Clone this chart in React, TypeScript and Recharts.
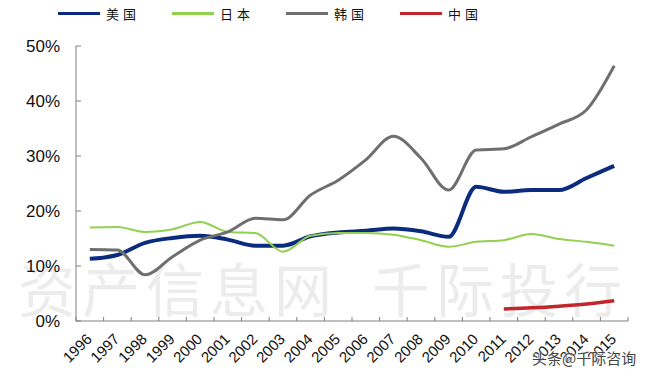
import * as React from 'react';
import { Line, LineChart, XAxis, YAxis } from 'recharts';

const years = ['1996', '1997', '1998', '1999', '2000', '2001', '2002', '2003', '2004', '2005',
    '2006', '2007', '2008', '2009', '2010', '2011', '2012', '2013', '2014', '2015'];
const usShare = [11.3, 12.0, 14.2, 15.1, 15.5, 14.8, 13.7, 13.7, 15.4, 16.1,
    16.4, 16.8, 16.3, 15.3, 24.4, 23.5, 23.8, 23.8, 26.0, 28.2];
const jpShare = [17.0, 17.1, 16.2, 16.7, 18.0, 16.2, 16.0, 12.6, 15.5, 16.0,
    16.0, 15.7, 14.7, 13.5, 14.4, 14.7, 15.8, 14.9, 14.4, 13.7];
const krShare = [13.0, 12.9, 8.4, 11.7, 14.7, 16.2, 18.7, 18.4, 22.9, 25.6,
    29.3, 33.6, 29.6, 23.8, 31.1, 31.3, 33.5, 35.8, 38.4, 46.4];
const cnShare = [null, null, null, null, null, null, null, null, null, null,
    null, null, null, null, null, 2.2, 2.4, 2.7, 3.1, 3.7];
const yTicks = [0, 10, 20, 30, 40, 50];

const series = [
    { key: 'us', name: '美国', color: '#0b2c7e', width: 4 },
    { key: 'jp', name: '日本', color: '#92d050', width: 2 },
    { key: 'kr', name: '韩国', color: '#6f6f6f', width: 3 },
    { key: 'cn', name: '中国', color: '#c0262b', width: 3.5 },
];

const data = years.map((year, i) => ({
    year,
    us: usShare[i],
    jp: jpShare[i],
    kr: krShare[i],
    cn: cnShare[i],
}));

const font = '"Liberation Sans", Arial, sans-serif';
const axisColor = '#7f7f7f';

const XTick = (props: any) => {
    const { x, y, payload, index } = props;
    const half = payload && payload.offset ? payload.offset : 13.8;
    return (
        <g>
            <line x1={x - half} y1={y} x2={x - half} y2={y - 4} stroke={axisColor} />
            {index === years.length - 1 && (
                <line x1={x + half} y1={y} x2={x + half} y2={y - 4} stroke={axisColor} />
            )}
            <text x={x + 3} y={y + 19} textAnchor="end" fontSize={15} fontFamily={font} fill="#111"
                transform={`rotate(-45, ${x + 3}, ${y + 19})`}>
                {payload.value}
            </text>
        </g>
    );
};

const YTick = (props: any) => {
    const { x, y, payload } = props;
    return (
        <g>
            <line x1={x} y1={y} x2={x + 5} y2={y} stroke={axisColor} />
            <text x={x - 16} y={y + 6} textAnchor="end" fontSize={17} fontFamily={font} fill="#111">
                {payload.value}%
            </text>
        </g>
    );
};

export default function App() {
    return (
        <div style={{ position: 'absolute', left: 0, top: 0, width: 661, height: 376, background: '#fff', overflow: 'hidden' }}>
            <div style={{
                position: 'absolute', left: 18, top: 258, fontSize: 58, color: '#ececec', whiteSpace: 'nowrap',
                fontFamily: '"Noto Sans CJK SC", sans-serif', letterSpacing: 6, lineHeight: 1,
            }}>
                资产信息网<span style={{ marginLeft: 34 }}>千际投行</span>
            </div>
            <div style={{ position: 'absolute', left: 0, top: 0 }}>
                <LineChart width={661} height={376} data={data} margin={{ top: 46, right: 33, bottom: 0, left: 0 }}>
                    <XAxis dataKey="year" scale="band" height={55} tickSize={0} tickMargin={0} interval={0}
                        stroke={axisColor} tick={<XTick />} />
                    <YAxis domain={[0, 50]} ticks={yTicks} width={76} tickSize={0} tickMargin={0}
                        stroke={axisColor} tick={<YTick />} />
                    {series.map(s => (
                        <Line key={s.key} type="monotone" dataKey={s.key} name={s.name} stroke={s.color}
                            strokeWidth={s.width} dot={false} isAnimationActive={false} />
                    ))}
                </LineChart>
            </div>
            {series.map((s, i) => (
                <div key={s.key} style={{ position: 'absolute', left: 58 + i * 114, top: 4, display: 'flex', alignItems: 'center', height: 18 }}>
                    <div style={{ width: 42, height: 3, background: s.color }} />
                    <span style={{ marginLeft: 6, fontSize: 13, letterSpacing: 4, color: '#111', fontFamily: '"Noto Sans CJK SC", sans-serif' }}>
                        {s.name}
                    </span>
                </div>
            ))}
            <div style={{
                position: 'absolute', left: 532, top: 347, fontSize: 15, color: '#444', whiteSpace: 'nowrap',
                fontFamily: '"Noto Sans CJK SC", sans-serif', textShadow: '0 0 3px #fff, 0 0 3px #fff',
            }}>
                头条@千际咨询
            </div>
        </div>
    );
}
